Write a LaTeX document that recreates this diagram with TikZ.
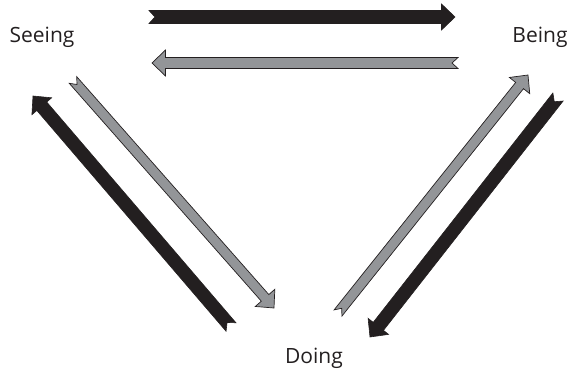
\documentclass[tikz,border=0pt]{standalone}
\usepackage{fontspec}
\setmainfont{Open Sans}
\usetikzlibrary{calc}

% Mũi tên to có đuôi khía: {từ}{đến}{nửa rộng thân}{kiểu}
\newcommand{\fatarrow}[4]{%
  \coordinate (hb) at ($(#2)!\headlen!(#1)$);
  \coordinate (nt) at ($(#1)!\notchlen!(#2)$);
  \filldraw[#4] ($(#1)!#3!90:(#2)$) -- ($(hb)!#3!90:(#2)$) -- ($(hb)!\headhw!90:(#2)$)
    -- (#2) -- ($(hb)!\headhw!-90:(#2)$) -- ($(hb)!#3!-90:(#2)$)
    -- ($(#1)!#3!-90:(#2)$) -- (nt) -- cycle;
}

\begin{document}
\begin{tikzpicture}[x=1pt,y=-1pt,
    label/.style={font=\fontsize{21}{24}\selectfont, text=textcol, inner sep=0pt},
    darkarrow/.style={fill=arrowblack, draw=arrowblack, line width=0.6pt, line join=miter},
    greyarrow/.style={fill=arrowgrey, draw=arrowblack, line width=0.7pt, line join=miter}]
    % Màu sắc
    \definecolor{arrowblack}{RGB}{35,31,32}
    \definecolor{arrowgrey}{RGB}{147,149,152}
    \definecolor{textcol}{RGB}{35,31,32}

    % Kích thước đầu mũi tên
    \def\headlen{13.5pt}
    \def\headhw{13pt}
    \def\notchlen{6pt}

    \useasboundingbox (0,0) rectangle (574,378);

    % Nhãn
    \node[label] (seeing) at (42,37) {Seeing};
    \node[label] (being) at (540,37) {Being};
    \node[label] (doing) at (314,358) {Doing};

    % Điểm đầu và cuối các mũi tên
    \coordinate (sb1) at (149,17);
    \coordinate (sb2) at (455,17);
    \coordinate (bs1) at (458,63);
    \coordinate (bs2) at (152,63);
    \coordinate (sd1) at (73,80);
    \coordinate (sd2) at (274,308);
    \coordinate (ds1) at (231,327);
    \coordinate (ds2) at (33,96);
    \coordinate (db1) at (338,313);
    \coordinate (db2) at (528,75);
    \coordinate (bd1) at (558,97);
    \coordinate (bd2) at (370,337);

    % Mũi tên
    \fatarrow{sb1}{sb2}{6.5pt}{darkarrow}
    \fatarrow{bs1}{bs2}{5.5pt}{greyarrow}
    \fatarrow{sd1}{sd2}{5pt}{greyarrow}
    \fatarrow{ds1}{ds2}{6.5pt}{darkarrow}
    \fatarrow{db1}{db2}{5pt}{greyarrow}
    \fatarrow{bd1}{bd2}{6.5pt}{darkarrow}
\end{tikzpicture}
\end{document}
